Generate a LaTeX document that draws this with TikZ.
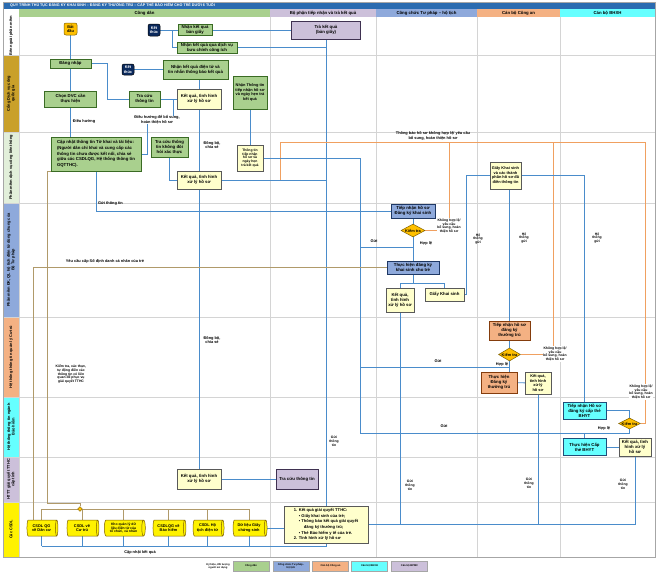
\documentclass[tikz,border=0pt]{standalone}
\usepackage{fontspec}
\setmainfont{Liberation Sans}
\usetikzlibrary{shapes.geometric}
\pgfdeclarelayer{back}
\pgfdeclarelayer{mid}
\pgfsetlayers{back,mid,main}
\definecolor{cgreen}{HTML}{A9D08E}
\definecolor{cgreenD}{HTML}{3A6B24}
\definecolor{cyel}{HTML}{FFFFCC}
\definecolor{cyelD}{HTML}{595959}
\definecolor{cblue}{HTML}{8EA9DB}
\definecolor{cblueD}{HTML}{1F3864}
\definecolor{corange}{HTML}{F4B183}
\definecolor{corangeD}{HTML}{843C0C}
\definecolor{ccyan}{HTML}{66FFFF}
\definecolor{ccyanD}{HTML}{1F4E79}
\definecolor{clav}{HTML}{CCC0DA}
\definecolor{clavD}{HTML}{3F3151}
\definecolor{cgold}{HTML}{FFC000}
\definecolor{cgoldD}{HTML}{7F6000}
\definecolor{cgoldlane}{HTML}{C9A02A}
\definecolor{cpale}{HTML}{E2EFDA}
\definecolor{cnavy}{HTML}{0B2A5E}
\definecolor{ctitle}{HTML}{2A6BB0}
\definecolor{cline}{HTML}{4A8CCB}
\definecolor{cornl}{HTML}{F0A060}
\definecolor{colive}{HTML}{B09A6A}
\definecolor{cgrid}{HTML}{D4D4D4}
\definecolor{cframe}{HTML}{A6A6A6}
\newcommand\fA{\fontsize{4.3}{4.9}\selectfont\bfseries}
\newcommand\fB{\fontsize{3.9}{4.5}\selectfont\bfseries}
\newcommand\fC{\fontsize{3.4}{3.9}\selectfont\bfseries}
\newcommand\fD{\fontsize{2.6}{3.0}\selectfont\bfseries}
\tikzset{
  base/.style={draw, line width=0.5pt, font=\fA, align=center, inner sep=0.5pt},
  wh/.style 2 args={minimum width=#1pt, minimum height=#2pt},
  gbox/.style={base, fill=cgreen, draw=cgreenD},
  ybox/.style={base, fill=cyel, draw=cyelD},
  bbox/.style={base, fill=cblue, draw=cblueD},
  obox/.style={base, fill=corange, draw=corangeD},
  cbox/.style={base, fill=ccyan, draw=ccyanD},
  lbox/.style={base, fill=clav, draw=clavD},
  startn/.style={base, fill=cgold, draw=cgoldD, rounded corners=2pt, font=\fB},
  endn/.style={base, fill=cnavy, draw=black, text=white, rounded corners=2pt, font=\fB},
  dia/.style={diamond, draw=cgoldD, fill=cgold, font=\fB, inner sep=0pt, aspect=2, line width=0.5pt},
  dbs/.style={cylinder, shape border rotate=0, shape aspect=0.3, draw=cgoldD, fill=yellow, font=\fB, align=center, inner sep=0.5pt, minimum width=16pt, line width=0.5pt},
  ln/.style={draw=cline, line width=0.85pt},
  on/.style={draw=cornl, line width=0.85pt},
  ol/.style={draw=colive, line width=0.7pt},
  lab/.style={font=\fB, align=center, inner sep=0.3pt},
  labw/.style={lab, fill=white},
  lanel/.style={font=\fB, align=center, rotate=90, inner sep=0pt},
  hdr/.style={font=\fA, inner sep=0pt},
  leg/.style={base, font=\fD, draw=cframe, minimum width=36pt, minimum height=10pt},
}
\begin{document}
\begin{tikzpicture}[x=1pt,y=-1pt]
\useasboundingbox (0,0) rectangle (658,576);
\begin{pgfonlayer}{back}
\fill[white] (0,0) rectangle (658,576);
\fill[ctitle] (3,2) rectangle (655,9);
\fill[cgreen] (19,9) rectangle (270,17);
\fill[clav] (270,9) rectangle (376,17);
\fill[cblue] (376,9) rectangle (477,17);
\fill[corange] (477,9) rectangle (560,17);
\fill[ccyan] (560,9) rectangle (655,17);
\fill[cgoldlane] (3,55) rectangle (19,132);
\fill[cpale] (3,132) rectangle (19,203);
\fill[cblue] (3,203) rectangle (19,317);
\fill[corange] (3,317) rectangle (19,397);
\fill[ccyan] (3,397) rectangle (19,457);
\fill[clav] (3,457) rectangle (19,502);
\fill[yellow] (3,502) rectangle (19,557);
\foreach \yy in {55,132,203,317,397,457,502}
  \draw[cgrid, line width=0.4pt] (3,\yy) -- (655,\yy);
\foreach \xx in {270,376,477,560}
  \draw[cgrid, line width=0.4pt] (\xx,17) -- (\xx,557);
\draw[cgrid, line width=0.4pt] (19,17) -- (19,557);
\draw[cframe, line width=0.5pt] (3,2) rectangle (655,557);
\end{pgfonlayer}
% title and headers
\node[anchor=west, text=white, font=\fontsize{3.7}{4.2}\selectfont\bfseries, inner sep=0] (title) at (10,5.6) {QUY TRÌNH THỦ TỤC ĐĂNG KÝ KHAI SINH – ĐĂNG KÝ THƯỜNG TRÚ – CẤP THẺ BẢO HIỂM CHO TRẺ DƯỚI 6 TUỔI};
\node[hdr] (h1) at (144.5,13) {Công dân};
\node[hdr] (h2) at (323,13) {Bộ phận tiếp nhận và trả kết quả};
\node[hdr] (h3) at (426.5,13) {Công chức Tư pháp – hộ tịch};
\node[hdr] (h4) at (518.5,13) {Cán bộ Công an};
\node[hdr] (h5) at (607.5,13) {Cán bộ BHXH};
% lane labels
\node[lanel] (L1) at (11,36) {Bên ngoài phần mềm};
\node[lanel] (L2) at (11,93.5) {Cổng Dịch vụ công\\quốc gia};
\node[lanel] (L3) at (11,167.5) {Phần mềm dịch vụ công liên thông};
\node[lanel] (L4) at (11,260) {Phần mềm ĐK, QL hộ tịch điện tử dùng chung của\\Bộ Tư pháp};
\node[lanel] (L5) at (11,357) {Hệ thống thông tin quản lý Cư trú};
\node[lanel] (L6) at (11,427) {Hệ thống thông tin ngành\\Bảo hiểm};
\node[lanel] (L7) at (11,479.5) {HTTT giải quyết TTHC\\cấp tỉnh};
\node[lanel] (L8) at (11,529.5) {Các CSDL};
% row 1
\node[startn, wh={13}{12}] (start) at (70.5,29) {Bắt\\đầu};
\node[endn, wh={12}{12}] (end1) at (154,30) {Kết\\thúc};
\node[gbox, wh={34}{11}] (r1a) at (195,30) {Nhận kết quả\\bản giấy};
\node[gbox, wh={60}{11}] (r1b) at (207,47.5) {Nhận kết quả qua dịch vụ\\bưu chính công ích};
\node[lbox, wh={69}{18}] (r1c) at (326,30) {Trả kết quả\\(bản giấy)};
% row 2
\node[gbox, wh={41}{9}] (login) at (70.5,63.5) {Đăng nhập};
\node[endn, wh={12}{11}] (end2) at (128,69.5) {Kết\\thúc};
\node[gbox, wh={65}{19}] (r2e) at (195.5,69.5) {Nhận kết quả điện tử và\\tin nhắn thông báo kết quả};
\node[gbox, wh={52}{16}] (chon) at (70.5,99) {Chọn DVC cần\\thực hiện};
\node[gbox, wh={31}{16}] (tracuu) at (144.5,99) {Tra cứu\\thông tin};
\node[ybox, wh={44}{20}] (kq1) at (199,99) {Kết quả, tình hình\\xử lý hồ sơ};
\node[gbox, wh={34}{33}, font=\fB] (nhantt) at (250,92.5) {Nhận Thông tin\\tiếp nhận hồ sơ\\và ngày hẹn trả\\kết quả};
% row 3
\node[gbox, wh={90}{34}, align=left, font=\fontsize{4.3}{5.6}\selectfont\bfseries] (capnhat) at (96,154) {Cập nhật thông tin Tờ khai và tài liệu:\\(Người dân chỉ khai và cung cấp các\\thông tin chưa được kết nối, chia sẻ\\giữa các CSDLQG, Hệ thống thông tin\\GQTTHC).};
\node[gbox, wh={37}{20}] (tracuu2) at (169.5,147) {Tra cứu thông\\tin không đòi\\hỏi xác thực};
\node[ybox, wh={44}{18}] (kq2) at (199,180) {Kết quả, tình hình\\xử lý hồ sơ};
\node[ybox, wh={26}{26}, font=\fC] (tttn) at (250,158) {Thông tin\\tiếp nhận\\hồ sơ và\\ngày hẹn\\trả kết quả};
\node[ybox, wh={31}{27}, font=\fB] (gks) at (505.5,175.5) {Giấy Khai sinh\\và các thành\\phần hồ sơ đã\\điền thông tin};
% row 4
\node[bbox, wh={44}{14}] (tnks) at (413,211) {Tiếp nhận hồ sơ\\Đăng ký khai sinh};
\node[dia, wh={24}{13}] (dm1) at (413,230.5) {Kiểm tra};
\node[bbox, wh={52}{13}] (thks) at (413,267.5) {Thực hiện đăng ký\\khai sinh cho trẻ};
\node[ybox, wh={28}{24}] (kq3) at (400,300) {Kết quả,\\tình hình\\xử lý hồ sơ};
\node[ybox, wh={39}{13}] (gks2) at (444.5,294.5) {Giấy Khai sinh};
% row 5
\node[obox, wh={41}{19}] (tntt) at (509.5,330.5) {Tiếp nhận hồ sơ\\đăng ký\\thường trú};
\node[dia, wh={22}{13}] (dm2) at (509.5,354.5) {Kiểm tra};
\node[obox, wh={36}{21}] (thtt) at (499,382.5) {Thực hiện\\Đăng ký\\thường trú};
\node[ybox, wh={26}{22}, font=\fB] (kq4) at (538,383) {Kết quả,\\tình hình\\xử lý\\hồ sơ};
% row 6
\node[cbox, wh={43}{17}] (tnbh) at (584.5,410.5) {Tiếp nhận Hồ sơ\\đăng ký cấp thẻ\\BHYT};
\node[dia, wh={21}{11}] (dm3) at (629.5,423.5) {Kiểm tra};
\node[cbox, wh={43}{17}] (thbh) at (584.5,447) {Thực hiện Cấp\\thẻ BHYT};
\node[ybox, wh={32}{18}] (kq5) at (635,447) {Kết quả, tình\\hình xử lý\\hồ sơ};
% row 7
\node[ybox, wh={44}{20}] (kq6) at (199,479) {Kết quả, tình hình\\xử lý hồ sơ};
\node[lbox, wh={42}{20}] (tracuu3) at (297,479) {Tra cứu thông tin};
% row 8
\node[dbs, minimum height=31pt] (db1) at (41.5,528) {CSDL QG\\về Dân cư};
\node[dbs, minimum height=32pt] (db2) at (82,528) {CSDL về\\Cư trú};
\node[dbs, minimum height=41pt, font=\fC] (db3) at (123.5,528) {Kho quản lý dữ\\liệu điện tử của\\tổ chức, cá nhân};
\node[dbs, minimum height=33pt] (db4) at (168.5,528) {CSDLQG về\\Bảo hiểm};
\node[dbs, minimum height=31pt] (db5) at (207.5,528) {CSDL Hộ\\tịch điện tử};
\node[dbs, minimum height=34pt] (db6) at (249,528) {Dữ liệu Giấy\\chứng sinh};
\node[diamond, fill=cgold, draw=cgoldD, inner sep=0pt, minimum size=5pt, line width=0.4pt] (jn) at (80,509) {};
\node[ybox, wh={84}{37}, align=left, font=\fontsize{4.1}{5.6}\selectfont\bfseries] (note) at (326,524.5) {1. Kết quả giải quyết TTHC:\\
\hspace*{5pt}\textbullet\ Giấy khai sinh của trẻ;\\
\hspace*{5pt}\textbullet\ Thông báo kết quả giải quyết\\
\hspace*{10pt}đăng ký thường trú;\\
\hspace*{5pt}\textbullet\ Thẻ Bảo hiểm y tế của trẻ.\\
2. Tình hình xử lý hồ sơ};
% legend
\node[lab, font=\fD] (lgt) at (218,566) {Ký hiệu, đối tượng\\người sử dụng};
\node[leg, fill=cgreen] (lg1) at (251,566) {Công dân};
\node[leg, fill=cblue] (lg2) at (291,566) {Công chức Tư pháp -\\hộ tịch};
\node[leg, fill=corange] (lg3) at (330.5,566) {Cán bộ Công an};
\node[leg, fill=ccyan] (lg4) at (369.5,566) {Cán bộ BHXH};
\node[leg, fill=clav] (lg5) at (409.5,566) {Cán bộ BPMC};
% labels
\node[lab] (t1) at (84,121) {Điều hướng};
\node[labw] (t2) at (157,120) {Điều hướng để bổ sung,\\hoàn thiện hồ sơ};
\node[lab] (t3) at (212,145) {Đồng bộ,\\chia sẻ};
\node[lab] (t4) at (212,340) {Đồng bộ,\\chia sẻ};
\node[lab] (t5) at (433,136) {Thông báo hồ sơ không hợp lệ/ yêu cầu\\bổ sung, hoàn thiện hồ sơ};
\node[lab] (t6) at (110.5,203) {Gửi thông tin};
\node[lab] (t7) at (105,261) {Yêu cầu cấp Số định danh cá nhân của trẻ};
\node[lab, font=\fC] (t8) at (71,374) {Kiểm tra, xác thực,\\tự động điền các\\thông tin có liên\\quan để phục vụ\\giải quyết TTHC};
\node[lab] (t9) at (374,241) {Gửi};
\node[lab] (t10) at (426,243) {Hợp lệ};
\node[labw, font=\fC] (t11) at (449,226) {Không hợp lệ/\\yêu cầu\\bổ sung, hoàn\\thiện hồ sơ};
\node[lab, font=\fC] (t12) at (478,239) {Hệ\\thống\\gửi};
\node[lab, font=\fC] (t13) at (524,238) {Hệ\\thống\\gửi};
\node[lab, font=\fC] (t14) at (597,238) {Hệ\\thống\\gửi};
\node[lab] (t15) at (438,361) {Gửi};
\node[lab] (t16) at (502,364.5) {Hợp lệ};
\node[labw, font=\fC] (t17) at (555,354) {Không hợp lệ/\\yêu cầu\\bổ sung, hoàn\\thiện hồ sơ};
\node[labw, font=\fC] (t18) at (641,392) {Không hợp lệ/\\yêu cầu\\bổ sung, hoàn\\thiện hồ sơ};
\node[lab] (t19) at (444,426) {Gửi};
\node[lab] (t20) at (604,428) {Hợp lệ};
\node[lab, font=\fC] (t21) at (334,441) {Gửi\\thông\\tin};
\node[lab, font=\fC] (t22) at (410,485) {Gửi\\thông\\tin};
\node[lab, font=\fC] (t23) at (529,483) {Gửi\\thông\\tin};
\node[lab, font=\fC] (t24) at (623,484) {Gửi\\thông\\tin};
\node[lab] (t25) at (140,552) {Cập nhật kết quả};
% connectors
\begin{pgfonlayer}{mid}
\coordinate (j1) at (172,30);
\coordinate (j3) at (173,99);
\coordinate (o1) at (280,180);
\coordinate (o2) at (280,142);
\coordinate (o3) at (645,142);
\coordinate (o4) at (449,142);
\coordinate (o5) at (553,142);
\coordinate (g1) at (360,247);
\coordinate (g2) at (360,367);
\coordinate (g3) at (360,433);
\coordinate (bb) at (326,546);
\draw[ln] (start) -- (login);
\draw[ln] (login) -- (chon);
\draw[ln] (chon.south) -- (chon.south |- capnhat.north);
\draw[ln] (login.east) -- ++(16,0) |- (tracuu.west);
\draw[ln] (tracuu) -- (kq1);
\draw[ln] (end1) -- (r1a);
\draw[ln] (j1) |- (r1b.west);
\draw[ln] (r1a) -- (r1c);
\draw[ln] (r1b.east) -- (r1b.east -| r1c.south);
\draw[ln] (r1c.south) -- (note.north);
\draw[ln] (end2) -- (r2e);
\draw[ln] (r2e.south -| kq1.north) -- (kq6.north);
\draw[ln] (nhantt) -- (tttn);
\draw[ln] (j3) |- ++(-26,17) |- (capnhat.east);
\draw[ln] (tracuu2.south) |- (kq2.west);
\draw[ln] (kq2.east) -- (kq2.east -| r1c.south);
\draw[on] (o1) -- (o2) -- (o3) |- (dm3.east);
\draw[on] (o4) |- (dm1.east);
\draw[on] (o5) |- (dm2.east);
\draw[ln] (tttn.east) -| (g3) -| (dm3.south);
\draw[ln] (g3 -| thbh.north) -- (thbh.north);
\draw[ln] (g1) -- (g1 -| dm1.south);
\draw[ln] (tnks) -- (dm1);
\draw[ln] (dm1) -- (thks);
\draw[ln] (g2) -| (dm2.south);
\draw[ln] (dm2.south |- g2) -- (dm2.south |- thtt.north);
\draw[ln] (capnhat.south) |- (tnks.west);
\draw[ol] (capnhat.south west) -- ++(-3,0) -- ++(0,332) -| (jn.north);
\draw[ol] (thks.west) -| ([xshift=-8.5pt]db1.north);
\draw[ol] (db1.north |- jn) -- (db6.north |- jn);
\foreach \d in {db1,db2,db3,db4,db5,db6} {
  \draw[ol] (\d.north |- jn) -- (\d.north);
  \draw[ln] (\d.south) -- (\d.south |- bb);
}
\draw[ln] (db1.south |- bb) -- (bb) -- (bb |- note.south);
\draw[ln] (db6.east) -- (db6.east -| note.west);
\draw[ln] (note.east) -| (kq5.south);
\draw[ln] (kq3.south) -- (kq3.south |- note.east);
\draw[ln] (kq4.south) -- (kq4.south |- note.east);
\draw[ln] (kq6) -- (tracuu3);
\path (thks.south) ++(0,9.5) coordinate (sp);
\draw[ln] (thks.south) -- (sp);
\draw[ln] (sp) -| (kq3.north);
\draw[ln] (sp) -| (gks2.north);
\draw[ln] (gks2.east) -- ++(2,0) |- (gks.west);
\draw[ln] (gks.south -| tntt.north) -- (tntt.north);
\draw[ln] (gks.east) -| (tnbh.north);
\draw[ln] (tntt) -- (dm2);
\draw[ln] (tnbh.east) -| (dm3.north);
\draw[ln] (thbh) -- (kq5);
\draw[ln] (thtt) -- (kq4);
\end{pgfonlayer}
\end{tikzpicture}
\end{document}
